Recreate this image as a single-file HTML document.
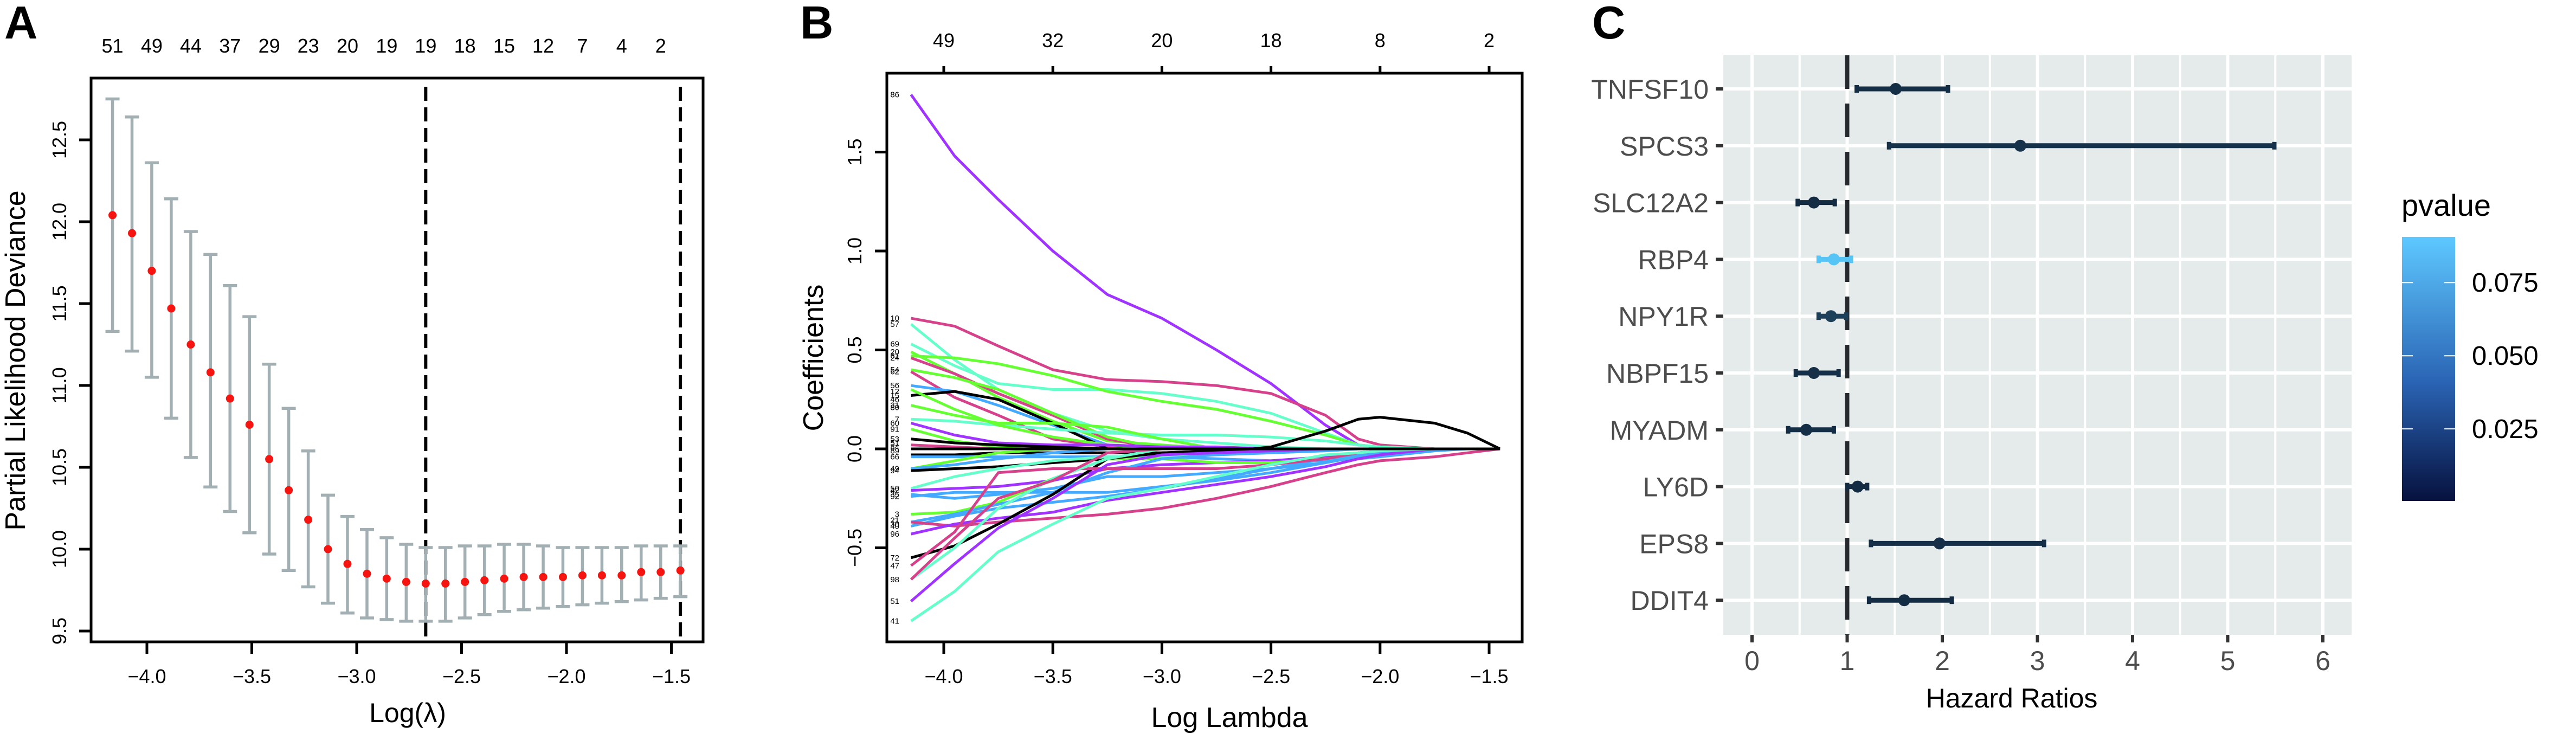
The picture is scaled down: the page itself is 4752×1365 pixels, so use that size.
<!DOCTYPE html>
<html><head><meta charset="utf-8"><style>
html,body{margin:0;padding:0;background:#fff;}
svg{display:block;font-family:"Liberation Sans",sans-serif;}
</style></head><body>
<svg id="fig" width="4752" height="1365" viewBox="0 0 4752 1365" xmlns="http://www.w3.org/2000/svg">
<rect width="4752" height="1365" fill="#fff"/>
<text x="8" y="71" font-size="85" font-weight="bold">A</text>
<text x="1476" y="71" font-size="85" font-weight="bold">B</text>
<text x="2937" y="71" font-size="85" font-weight="bold">C</text>
<g id="pa"></g>
<g id="pb"></g>
<g id="pc"></g>
</svg>
<script>
// ---------- Panel A data ----------
const aLambda=[-4.164,-4.071,-3.977,-3.884,-3.791,-3.697,-3.604,-3.511,-3.417,-3.324,-3.231,-3.137,-3.044,-2.951,-2.857,-2.764,-2.671,-2.577,-2.484,-2.391,-2.297,-2.204,-2.111,-2.017,-1.924,-1.831,-1.737,-1.644,-1.551,-1.457];
const aMean=[12.04,11.93,11.70,11.47,11.25,11.08,10.92,10.76,10.55,10.36,10.18,10.00,9.91,9.85,9.82,9.80,9.79,9.79,9.80,9.81,9.82,9.83,9.83,9.83,9.84,9.84,9.84,9.86,9.86,9.87];
const aUpper=[12.75,12.64,12.36,12.14,11.94,11.80,11.61,11.42,11.13,10.86,10.60,10.33,10.20,10.12,10.07,10.03,10.01,10.01,10.02,10.02,10.03,10.03,10.02,10.01,10.01,10.01,10.01,10.02,10.02,10.02];
const aLower=[11.33,11.21,11.05,10.80,10.56,10.38,10.23,10.10,9.97,9.87,9.77,9.67,9.61,9.58,9.57,9.56,9.56,9.56,9.58,9.60,9.62,9.63,9.64,9.65,9.66,9.67,9.68,9.69,9.70,9.71];
const aTopLabels=["51","49","44","37","29","23","20","19","19","18","15","12","7","4","2"];
const aXTicks=[-4.0,-3.5,-3.0,-2.5,-2.0,-1.5];
const aYTicks=[9.5,10.0,10.5,11.0,11.5,12.0,12.5];
const aVLines=[-2.671,-1.457];
// ---------- Panel B data ----------
const bLambda=[-4.15,-3.95,-3.75,-3.5,-3.25,-3.0,-2.75,-2.5,-2.25,-2.1,-2.0,-1.75,-1.6,-1.45];
const bColors=["#a033ff","#d6418b","#66ffcc","#66ffcc","#66ff33","#66ff33","#d6418b","#66ff33","#d6418b","#44aaff","#000000","#66ffcc","#66ff33","#66ff33","#a033ff","#66ff33","#000000","#d6418b","#000000","#44aaff","#66ff33","#44aaff","#000000","#66ffcc","#a033ff","#44aaff","#44aaff","#66ff33","#44aaff","#44aaff","#d6418b","#a033ff","#000000","#d6418b","#66ffcc","#a033ff","#66ffcc","#d6418b","#000000"];
const bCoefs=[
[1.79,1.48,1.26,1.00,0.78,0.66,0.50,0.33,0.12,0.02,0.01,0,0,0],
[0.66,0.62,0.52,0.40,0.35,0.34,0.32,0.28,0.17,0.05,0.02,0,0,0],
[0.63,0.45,0.30,0.18,0.09,0.05,0.03,0.01,0,0,0,0,0,0],
[0.53,0.42,0.33,0.30,0.30,0.28,0.24,0.18,0.08,0.02,0.01,0,0,0],
[0.47,0.46,0.43,0.37,0.29,0.24,0.20,0.14,0.07,0.02,0.01,0,0,0],
[0.49,0.38,0.26,0.14,0.04,0.02,0,0,0,0,0,0,0,0],
[0.46,0.38,0.28,0.17,0.05,0,0,0,0,0,0,0,0,0],
[0.40,0.36,0.30,0.18,0.06,0,0,0,0,0,0,0,0,0],
[0.39,0.26,0.17,0.05,0.01,0,0,0,0,0,0,0,0,0],
[0.32,0.29,0.22,0.12,0.02,0,0,0,0,0,0,0,0,0],
[0.27,0.29,0.25,0.13,0,0,0,0,0,0,0,0,0,0],
[0.15,0.14,0.12,0.10,0.08,0.07,0.07,0.06,0.04,0.02,0.01,0,0,0],
[0.22,0.17,0.13,0.13,0.11,0.05,0,0,0,0,0,0,0,0],
[0.30,0.20,0.12,0.06,0.02,0,0,0,0,0,0,0,0,0],
[0.13,0.07,0.03,0.02,0.02,0.01,0.01,0,0,0,0,0,0,0],
[0.10,0.04,0.01,0,0,0,0,0,0,0,0,0,0,0],
[0.05,0.03,0.02,0.01,0,0,0,0,0,0,0,0,0,0],
[0.02,0.01,0,0,0,0,0,0,0,0,0,0,0,0],
[-0.03,-0.03,-0.02,-0.02,-0.02,-0.02,-0.01,-0.01,0,0,0,0,0,0],
[-0.04,-0.04,-0.04,-0.04,-0.04,-0.04,-0.05,-0.06,-0.06,-0.05,-0.04,-0.01,0,0],
[-0.10,-0.06,-0.02,0,0,0,0,0,0,0,0,0,0,0],
[-0.10,-0.08,-0.05,-0.02,0,0,0,0,0,0,0,0,0,0],
[-0.11,-0.10,-0.09,-0.07,-0.05,-0.03,-0.02,0.01,0.09,0.15,0.16,0.13,0.08,0],
[-0.20,-0.14,-0.10,-0.06,-0.04,-0.04,-0.03,-0.02,-0.01,0,0,0,0,0],
[-0.21,-0.20,-0.19,-0.16,-0.10,-0.08,-0.07,-0.06,-0.04,-0.02,-0.01,0,0,0],
[-0.23,-0.25,-0.23,-0.20,-0.14,-0.14,-0.12,-0.10,-0.07,-0.04,-0.02,0,0,0],
[-0.24,-0.22,-0.22,-0.22,-0.22,-0.19,-0.16,-0.12,-0.07,-0.03,-0.01,0,0,0],
[-0.33,-0.32,-0.27,-0.15,-0.05,-0.05,-0.07,-0.07,-0.05,-0.03,-0.02,0,0,0],
[-0.37,-0.33,-0.28,-0.22,-0.12,-0.05,-0.03,-0.02,-0.01,0,0,0,0,0],
[-0.39,-0.34,-0.30,-0.27,-0.24,-0.20,-0.15,-0.10,-0.05,-0.03,-0.02,0,0,0],
[-0.37,-0.39,-0.37,-0.35,-0.33,-0.30,-0.25,-0.19,-0.12,-0.08,-0.06,-0.04,-0.02,0],
[-0.43,-0.38,-0.35,-0.32,-0.26,-0.22,-0.18,-0.14,-0.09,-0.05,-0.03,0,0,0],
[-0.55,-0.49,-0.38,-0.23,-0.05,-0.02,-0.01,0,0,0,0,0,0,0],
[-0.59,-0.42,-0.12,-0.10,-0.10,-0.10,-0.10,-0.08,-0.05,-0.02,-0.01,0,0,0],
[-0.66,-0.50,-0.30,-0.15,-0.05,0,0,0,0,0,0,0,0,0],
[-0.77,-0.58,-0.40,-0.25,-0.08,-0.03,-0.02,-0.01,0,0,0,0,0,0],
[-0.87,-0.72,-0.52,-0.38,-0.25,-0.20,-0.14,-0.08,-0.03,-0.02,-0.01,0,0,0],
[-0.66,-0.45,-0.25,-0.16,-0.02,0,0,0,0,0,0,0,0,0],
[0,0,0,0,0,0,0,0,0,0,0,0,0,0]
];
const bLabelText=["86","10","57","69","20","61","24","54","62","56","12","15","46","31","80","7","60","91","53","51","84","89","66","49","94","50","42","35","92","3","21","30","40","96","72","47","98","51","41"];
const bLabelVal=[1.79,0.66,0.63,0.53,0.49,0.47,0.46,0.40,0.39,0.32,0.29,0.27,0.25,0.22,0.21,0.15,0.13,0.10,0.05,0.03,0.01,-0.01,-0.04,-0.10,-0.11,-0.20,-0.21,-0.23,-0.24,-0.33,-0.36,-0.38,-0.39,-0.43,-0.55,-0.59,-0.66,-0.77,-0.87];
const bTopLabels=["49","32","20","18","8","2"];
const bXTicks=[-4.0,-3.5,-3.0,-2.5,-2.0,-1.5];
const bYTicks=[-0.5,0.0,0.5,1.0,1.5];
// ---------- Panel C data ----------
const cGenes=["TNFSF10","SPCS3","SLC12A2","RBP4","NPY1R","NBPF15","MYADM","LY6D","EPS8","DDIT4"];
const cHR=[1.51,2.82,0.65,0.86,0.83,0.65,0.57,1.11,1.97,1.60];
const cLow=[1.10,1.44,0.48,0.70,0.70,0.46,0.38,1.00,1.25,1.23];
const cHigh=[2.06,5.49,0.87,1.04,0.99,0.91,0.86,1.21,3.07,2.10];
const cP=[0.002,0.004,0.001,0.090,0.012,0.003,0.002,0.0004,0.003,0.001];
const cXTicks=[0,1,2,3,4,5,6];
const cLegendTicks=[0.025,0.050,0.075];
const cLegendLabels=["0.025","0.050","0.075"];

const NS="http://www.w3.org/2000/svg";
function mk(parent,tag,attrs,txt){const e=document.createElementNS(NS,tag);for(const k in attrs)e.setAttribute(k,attrs[k]);if(txt!==undefined)e.textContent=txt;parent.appendChild(e);return e;}

// ===== Panel A =====
(function(){
const g=document.getElementById('pa');
const X0=168,X1=1297,Y0=144,Y1=1184;
const ax=v=>271+(v+4)*387;
const ay=v=>1164-(v-9.5)*302;
let e=mk(g,'rect',{x:X0,y:Y0,width:X1-X0,height:Y1-Y0,fill:'none',stroke:'#000','stroke-width':5});

aXTicks.forEach(t=>{
 let l=mk(g,'line',{x1:ax(t),x2:ax(t),y1:Y1,y2:Y1+22,stroke:'#000','stroke-width':5});
 
 let s=mk(g,'text',{x:ax(t),y:1260,'font-size':36,'text-anchor':'middle'},'\u2212'+Math.abs(t).toFixed(1));
 
});
aYTicks.forEach(t=>{
 let l=mk(g,'line',{x1:X0-22,x2:X0,y1:ay(t),y2:ay(t),stroke:'#000','stroke-width':5});
 
 let s=mk(g,'text',{x:0,y:0,'font-size':36,'text-anchor':'middle',transform:`translate(122,${ay(t)}) rotate(-90)`},t.toFixed(1));
 
});
aTopLabels.forEach((lab,i)=>{
 let s=mk(g,'text',{x:ax(aLambda[i*2]),y:97,'font-size':36,'text-anchor':'middle'},lab);
 
});
aVLines.forEach(v=>{
 let l=mk(g,'line',{x1:ax(v),x2:ax(v),y1:160,y2:Y1,stroke:'#000','stroke-width':6,'stroke-dasharray':'26 12'});
 
});
aLambda.forEach((lv,i)=>{
 const x=ax(lv);
 let b=mk(g,'path',{d:`M${x-13},${ay(aUpper[i])}H${x+13}M${x},${ay(aUpper[i])}V${ay(aLower[i])}M${x-13},${ay(aLower[i])}H${x+13}`,stroke:'#a2b0b4','stroke-width':5.5,fill:'none'});
 
});
aLambda.forEach((lv,i)=>{
 let c=mk(g,'circle',{cx:ax(lv),cy:ay(aMean[i]),r:7.5,fill:'#f5140f'});
 
});
let t1=mk(g,'text',{x:0,y:0,'font-size':52,'text-anchor':'middle',transform:'translate(46,665) rotate(-90)'},'Partial Likelihood Deviance');

let t2=mk(g,'text',{x:752,y:1332,'font-size':50,'text-anchor':'middle'},'Log(\u03bb)');

})();

// ===== Panel B =====
(function(){
const g=document.getElementById('pb');
const X0=1636,X1=2808,Y0=135,Y1=1184;
const bx=v=>1741+(v+4)*402.4;
const by=v=>828-v*365;
bCoefs.forEach((arr,ci)=>{
 const d=arr.map((v,i)=>(i?'L':'M')+bx(bLambda[i]).toFixed(1)+','+by(v).toFixed(1)).join('');
 let p=mk(g,'path',{d:d,fill:'none',stroke:bColors[ci],'stroke-width':5,'stroke-linejoin':'round'});
 
});
let e=mk(g,'rect',{x:X0,y:Y0,width:X1-X0,height:Y1-Y0,fill:'none',stroke:'#000','stroke-width':5});

bXTicks.forEach((t,i)=>{
 let l=mk(g,'line',{x1:bx(t),x2:bx(t),y1:Y1,y2:Y1+22,stroke:'#000','stroke-width':5});
 
 let s=mk(g,'text',{x:bx(t),y:1260,'font-size':36,'text-anchor':'middle'},'\u2212'+Math.abs(t).toFixed(1));
 
 let l2=mk(g,'line',{x1:bx(t),x2:bx(t),y1:Y0-13,y2:Y0,stroke:'#000','stroke-width':5});
 
 let s2=mk(g,'text',{x:bx(t),y:87,'font-size':36,'text-anchor':'middle'},bTopLabels[i]);
 
});
bYTicks.forEach(t=>{
 let l=mk(g,'line',{x1:X0-22,x2:X0,y1:by(t),y2:by(t),stroke:'#000','stroke-width':5});
 
 let s=mk(g,'text',{x:0,y:0,'font-size':36,'text-anchor':'middle',transform:`translate(1589,${by(t)}) rotate(-90)`},(t<0?'\u2212':'')+Math.abs(t).toFixed(1));
 
});
bLabelText.forEach((lab,i)=>{
 let s=mk(g,'text',{x:1659,y:by(bLabelVal[i])+5,'font-size':15,'text-anchor':'end'},lab);
 
});
let t1=mk(g,'text',{x:0,y:0,'font-size':52,'text-anchor':'middle',transform:'translate(1518,660) rotate(-90)'},'Coefficients');

let t2=mk(g,'text',{x:2268,y:1341,'font-size':52,'text-anchor':'middle'},'Log Lambda');

})();

// ===== Panel C =====
(function(){
const g=document.getElementById('pc');
const X0=3179,X1=4338,Y0=102,Y1=1171;
const cx=v=>3232+v*175.5;
const cy=i=>164+i*104.8;
const pMin=0.0004,pMax=0.0906;
const lo=[19,43,67],hi=[86,198,247];
function col(p){let t=(p-pMin)/(pMax-pMin);t=Math.max(0,Math.min(1,t));const c=lo.map((a,k)=>Math.round(a+(hi[k]-a)*t));return `rgb(${c[0]},${c[1]},${c[2]})`;}
let bg=mk(g,'rect',{x:X0,y:Y0,width:X1-X0,height:Y1-Y0,fill:'#e5eaea'});

for(let v=0.5;v<=6;v+=1){let l=mk(g,'line',{x1:cx(v),x2:cx(v),y1:Y0,y2:Y1,stroke:'#fff','stroke-width':4});}
cXTicks.forEach(t=>{let l=mk(g,'line',{x1:cx(t),x2:cx(t),y1:Y0,y2:Y1,stroke:'#fff','stroke-width':6});});
cGenes.forEach((n,i)=>{let l=mk(g,'line',{x1:X0,x2:X1,y1:cy(i),y2:cy(i),stroke:'#fff','stroke-width':6});});
let dl=mk(g,'line',{x1:cx(1),x2:cx(1),y1:Y0,y2:Y1,stroke:'#262a2e','stroke-width':8,'stroke-dasharray':'62 27'});

cGenes.forEach((n,i)=>{
 const y=cy(i),c=col(cP[i]);
 let b=mk(g,'line',{x1:cx(cLow[i]),x2:cx(cHigh[i]),y1:y,y2:y,stroke:c,'stroke-width':9});
 
 let k1=mk(g,'rect',{x:cx(cLow[i])-4,y:y-7,width:8,height:14,fill:c});
 
 let k2=mk(g,'rect',{x:cx(cHigh[i])-4,y:y-7,width:8,height:14,fill:c});
 
 let p=mk(g,'circle',{cx:cx(cHR[i]),cy:y,r:11,fill:c});
 
 let tk=mk(g,'line',{x1:X0-14,x2:X0,y1:y,y2:y,stroke:'#333','stroke-width':6});
 
 let s=mk(g,'text',{x:3152,y:y+18,'font-size':50,'text-anchor':'end',fill:'#4d4d4d'},n);
 
});
cXTicks.forEach(t=>{
 let l=mk(g,'line',{x1:cx(t),x2:cx(t),y1:Y1,y2:Y1+14,stroke:'#333','stroke-width':6});
 
 let s=mk(g,'text',{x:cx(t),y:1236,'font-size':50,'text-anchor':'middle',fill:'#4d4d4d'},String(t));
 
});
let xt=mk(g,'text',{x:3711,y:1305,'font-size':50,'text-anchor':'middle'},'Hazard Ratios');

// legend
const LT=437,LB=924;
const ly=p=>LB-(p-pMin)/(pMax-pMin)*(LB-LT);
const defs=mk(g,'defs',{});
const gr=mk(defs,'linearGradient',{id:'pg',x1:0,y1:1,x2:0,y2:0});
mk(gr,'stop',{offset:'0','stop-color':'#06113e'});
mk(gr,'stop',{offset:'0.45','stop-color':'#2a64b4'});
mk(gr,'stop',{offset:'1','stop-color':'#5ec8ff'});
let lt=mk(g,'text',{x:4430,y:398,'font-size':56},'pvalue');

let bar=mk(g,'rect',{x:4431,y:LT,width:98,height:LB-LT,fill:'url(#pg)'});

cLegendTicks.forEach((t,i)=>{
 let a=mk(g,'line',{x1:4431,x2:4451,y1:ly(t),y2:ly(t),stroke:'#fff','stroke-width':2});
 
 let b=mk(g,'line',{x1:4509,x2:4529,y1:ly(t),y2:ly(t),stroke:'#fff','stroke-width':2});
 
 let s=mk(g,'text',{x:4560,y:ly(t)+17,'font-size':49},cLegendLabels[i]);
 
});
})();
</script>
</body></html>
